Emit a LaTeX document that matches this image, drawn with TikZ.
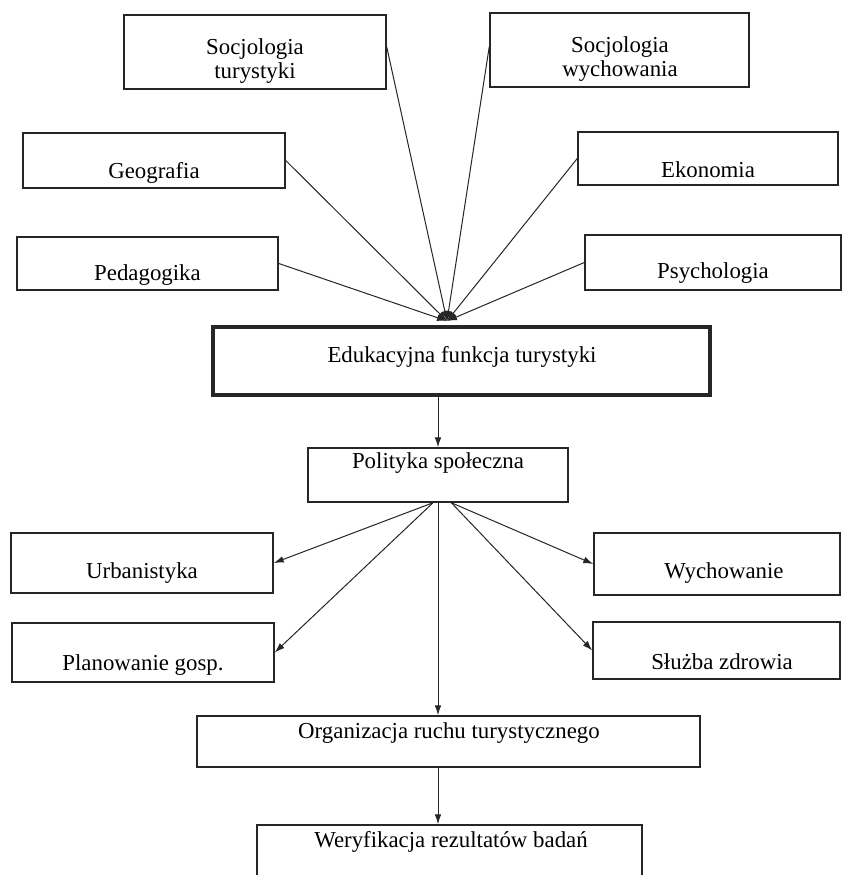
\documentclass[tikz,border=0pt]{standalone}
\usepackage{fontspec}
\setmainfont{Liberation Serif}
\usetikzlibrary{arrows.meta}
\tikzset{
    pole/.style={draw=black!85, line width=0.45mm, inner sep=0pt},
    napis/.style={font=\fontsize{19.5}{21}\selectfont, align=center, inner sep=0pt},
    strzalka/.style={draw=black!85, line width=0.3mm, -{Latex[length=3mm,width=2mm]}}
}

\begin{document}
\begin{tikzpicture}[x=0.3mm, y=-0.3mm]
    \useasboundingbox (0,0) rectangle (843,875);
    \clip (0,0) rectangle (843,875);
    \fill[white] (0,0) rectangle (843,875);

    \node[pole, minimum width=78.6mm, minimum height=22.2mm] (soctur) at (255,52) {};
    \node[pole, minimum width=77.7mm, minimum height=22.2mm] (socwych) at (619.5,50) {};
    \node[pole, minimum width=78.6mm, minimum height=16.5mm] (geo) at (154,160.5) {};
    \node[pole, minimum width=78mm, minimum height=15.9mm] (eko) at (708,158.5) {};
    \node[pole, minimum width=78.3mm, minimum height=15.9mm] (ped) at (147.5,263.5) {};
    \node[pole, minimum width=76.8mm, minimum height=16.5mm] (psy) at (713,262.5) {};
    \node[pole, line width=1.2mm, minimum width=149.1mm, minimum height=20.4mm] (edu) at (461.5,361) {};
    \node[pole, minimum width=78mm, minimum height=16.2mm] (pol) at (438,475) {};
    \node[pole, minimum width=78.6mm, minimum height=18mm] (urb) at (142,563) {};
    \node[pole, minimum width=73.8mm, minimum height=18.6mm] (wych) at (717,564) {};
    \node[pole, minimum width=78.6mm, minimum height=17.7mm] (plan) at (143,652.5) {};
    \node[pole, minimum width=74.1mm, minimum height=17.1mm] (slu) at (716.5,650.5) {};
    \node[pole, minimum width=150.9mm, minimum height=15.3mm] (org) at (448.5,741.5) {};
    \node[pole, minimum width=115.5mm, minimum height=22.5mm] (wer) at (449.5,862.5) {};

    \node[napis] (soctur-t) at (255,61) {Socjologia\\turystyki};
    \node[napis] (socwych-t) at (620,59) {Socjologia\\wychowania};
    \node[napis] (geo-t) at (154,173) {Geografia};
    \node[napis] (eko-t) at (708,170) {Ekonomia};
    \node[napis] (ped-t) at (147.5,275) {Pedagogika};
    \node[napis] (psy-t) at (713,273) {Psychologia};
    \node[napis] (edu-t) at (462,357) {Edukacyjna funkcja turystyki};
    \node[napis] (pol-t) at (438,463) {Polityka społeczna};
    \node[napis] (urb-t) at (142,573) {Urbanistyka};
    \node[napis] (wych-t) at (724,573) {Wychowanie};
    \node[napis] (plan-t) at (143,665) {Planowanie gosp.};
    \node[napis] (slu-t) at (722,662) {Służba zdrowia};
    \node[napis] (org-t) at (449,733) {Organizacja ruchu turystycznego};
    \node[napis] (wer-t) at (451,842) {Weryfikacja rezultatów badań};

    \coordinate (zbieg) at (447,321);

    \draw[strzalka] ([yshift=1.5mm]soctur.east) -- (zbieg);
    \draw[strzalka] ([yshift=1mm]socwych.west) -- (zbieg);
    \draw[strzalka] (geo.east) -- (zbieg);
    \draw[strzalka] (eko.west) -- (zbieg);
    \draw[strzalka] (ped.east) -- (zbieg);
    \draw[strzalka] (psy.west) -- (zbieg);

    \draw[strzalka] (edu.south -| pol.north) -- (pol.north);
    \draw[strzalka] ([xshift=-1.5mm]pol.south) -- (urb.east);
    \draw[strzalka] ([xshift=-1.5mm]pol.south) -- (plan.east);
    \draw[strzalka] ([xshift=4mm]pol.south) -- (wych.west);
    \draw[strzalka] ([xshift=4mm]pol.south) -- (slu.west);
    \draw[strzalka] (pol.south) -- (pol.south |- org.north);
    \draw[strzalka] (pol.south |- org.south) -- (pol.south |- wer.north);
\end{tikzpicture}
\end{document}
